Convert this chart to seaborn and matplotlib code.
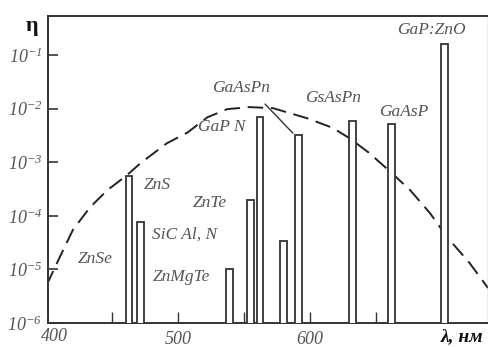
import numpy as np
import pandas as pd
import matplotlib
matplotlib.use("Agg")
import matplotlib.pyplot as plt
import seaborn as sns

# Длины волн полос (нм) и их эффективность
bar_nm = [462.5, 471.5, 539, 554.5, 562, 579.5, 591, 632, 661.5, 702]
bar_eta = [5.5e-4, 7.6e-5, 1.0e-5, 2.0e-4, 6.9e-3, 3.4e-5, 3.2e-3, 5.9e-3, 5.1e-3, 0.16]

# Кривая чувствительности глаза (пунктир)
curve_nm = [400, 410, 420, 433, 446, 461, 471, 491, 507, 522, 537, 554, 572,
            598, 617, 630, 645, 661, 676, 691, 704, 721, 735]
curve_eta = [5.1e-6, 1.7e-5, 5.5e-5, 1.45e-4, 3.0e-4, 5.75e-4, 9.5e-4, 2.24e-3,
             3.6e-3, 6.9e-3, 9.8e-3, 1.07e-2, 1.02e-2, 6.6e-3, 4.4e-3, 2.8e-3,
             1.48e-3, 6.6e-4, 3.0e-4, 1.12e-4, 4.0e-5, 1.32e-5, 4.5e-6]

labels = ["GaP:ZnO", "GsAsPn", "GaAsP", "GaP N", "GaAsPn", "ZnS", "ZnTe",
          "SiC Al, N", "ZnSe", "ZnMgTe"]
label_nm = [691.8, 617.4, 671.3, 533, 547.5, 483.8, 524, 505, 436.7, 502.7]
label_eta = [0.29, 1.6e-2, 8.7e-3, 4.6e-3, 2.4e-2, 3.7e-4, 1.74e-4, 4.4e-5, 1.55e-5, 7.2e-6]

ytick_exp = [-6, -5, -4, -3, -2, -1]
xticks = [450, 500, 550, 600, 650, 700]
xtick_labels = ["", "500", "", "600", "", ""]

sns.set_style("white")
plt.rcParams["mathtext.fontset"] = "custom"
plt.rcParams["mathtext.rm"] = "Liberation Serif:italic"
plt.rcParams["mathtext.it"] = "Liberation Serif:italic"
plt.rcParams["axes.unicode_minus"] = False

fig = plt.figure(figsize=(4.89, 3.47), dpi=100)
ax = fig.add_axes([0.098, 0.069, 0.900, 0.885])

gray = "#555555"
edge = "#333333"

df_curve = pd.DataFrame({"nm": curve_nm, "eta": curve_eta})
ax.set_yscale("log")
sns.lineplot(data=df_curve, x="nm", y="eta", ax=ax, color="#222222",
             linewidth=1.4, dashes=False)
ax.lines[-1].set_dashes([8, 4])

ax.bar(bar_nm, bar_eta, width=5.2, bottom=1e-7, color="white",
       edgecolor=edge, linewidth=1.3, zorder=3)

ax.set_xlim(401, 735)
ax.set_ylim(1e-6, 10 ** -0.27)

ax.set_yticks([10.0 ** e for e in ytick_exp])
ax.set_yticklabels([r"$10^{%d}$" % e for e in ytick_exp], color=gray, fontsize=13)
ax.yaxis.set_minor_locator(matplotlib.ticker.NullLocator())
ax.set_xticks(xticks)
ax.set_xticklabels(xtick_labels, color=gray, fontsize=13,
                   fontfamily="Liberation Serif", fontstyle="italic")
ax.tick_params(axis="y", direction="in", length=7, width=1.2, color=edge, pad=4,
               left=True)
ax.tick_params(axis="x", direction="in", length=8, width=1.0, color=edge, pad=6,
               bottom=True)
ax.set_xlabel("")
ax.set_ylabel("")

ax.text(406, 10 ** -6.1, "400", color=gray, fontsize=13, ha="center", va="top",
        fontfamily="Liberation Serif", fontstyle="italic")

for side in ["left", "bottom", "top"]:
    ax.spines[side].set_color(edge)
    ax.spines[side].set_linewidth(1.4)
ax.spines["right"].set_color("#aaaaaa")
ax.spines["right"].set_linewidth(1.0)

for txt, x, y in zip(labels, label_nm, label_eta):
    ax.text(x, y, txt, color=gray, fontsize=12.5, ha="center", va="center",
            fontfamily="Liberation Serif", fontstyle="italic", zorder=4)

# выноска от GaAsPn к полосе 591 нм
ax.annotate("", xy=(bar_nm[6] - 2.6, bar_eta[6]), xytext=(564.3, 1.33e-2),
            arrowprops=dict(arrowstyle="-", color=edge, lw=1.0), zorder=4)

fig.text(0.065, 0.925, "η", fontsize=16, fontweight="bold", ha="center", va="center",
         fontfamily="Liberation Serif", color="#111111")
fig.text(0.945, 0.03, "λ, нм", fontsize=14, fontweight="bold", fontstyle="italic",
         ha="center", va="center", fontfamily="Liberation Serif", color="#111111")

fig.savefig("out.png", dpi=100)
